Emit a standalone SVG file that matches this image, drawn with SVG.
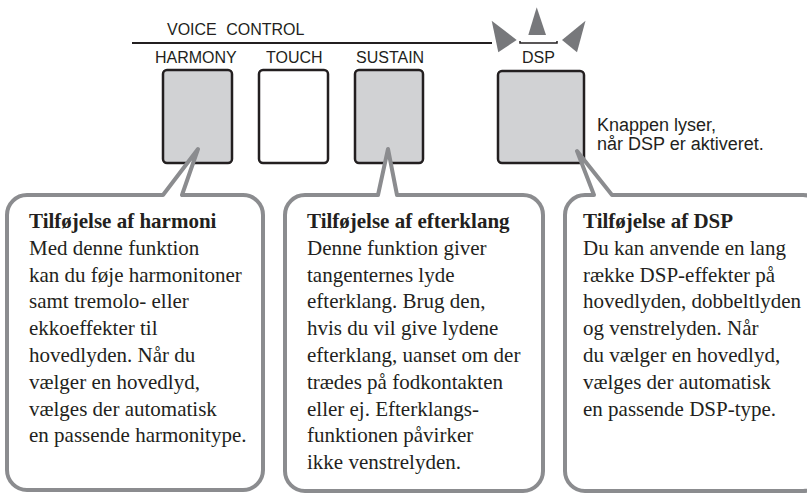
<svg xmlns="http://www.w3.org/2000/svg" width="807" height="493" viewBox="0 0 807 493">
<style>
.hd{font-family:"Liberation Sans",Arial,sans-serif;font-size:16px;fill:#231f20}
.nt{font-family:"Liberation Sans",Arial,sans-serif;font-size:18px;fill:#231f20}
.bt{font-family:"Liberation Serif","Times New Roman",serif;font-size:21px;fill:#231f20}
.tt{font-weight:bold}
.btn{stroke:#231f20;stroke-width:2.5;fill:#d1d2d4}
.call{fill:#fff;stroke:#8b8c8f;stroke-width:4;stroke-linejoin:round}
.ray{fill:#77787b}
</style>
<rect width="807" height="493" fill="#fff"/>
<g id="panel">
<line x1="132" y1="43" x2="492" y2="43" stroke="#231f20" stroke-width="2"/>
<text class="hd" x="167" y="35" word-spacing="5">VOICE CONTROL</text>
</g>
<g id="harmony-button">
<text class="hd" x="155" y="63">HARMONY</text>
<rect class="btn" x="163" y="70" width="69" height="93" rx="4"/>
</g>
<g id="touch-button">
<text class="hd" x="266" y="63">TOUCH</text>
<rect class="btn" x="259" y="70" width="69" height="93" rx="4" fill="#fff" style="fill:#fff"/>
</g>
<g id="sustain-button">
<text class="hd" x="356" y="63">SUSTAIN</text>
<rect class="btn" x="355" y="70" width="68" height="93" rx="4"/>
</g>
<g id="dsp-button">
<polygon class="ray" points="491.7,20.7 516.7,40 498.3,52.3"/>
<polygon class="ray" points="536.7,7.3 546,35 528.3,35"/>
<polygon class="ray" points="585.5,20.7 562,40 577,52.3"/>
<path d="M520,41 V43 H557 V41" fill="none" stroke="#231f20" stroke-width="1.5"/>
<text class="hd" x="522" y="63">DSP</text>
<rect class="btn" x="498" y="71" width="86" height="92" rx="4"/>
<text class="nt" x="597" y="131">Knappen lyser,</text>
<text class="nt" x="597" y="150">når DSP er aktiveret.</text>
</g>
<g id="connectors">
<path class="call" d="M27,195 H163 L198,149 L182,195 H243 A20,20 0 0 1 263,215 V470 A20,20 0 0 1 243,490 H27 A20,20 0 0 1 7,470 V215 A20,20 0 0 1 27,195 Z"/>
<path class="call" d="M305,195 H378 L388,149 L397,195 H523 A20,20 0 0 1 543,215 V471 A20,20 0 0 1 523,491 H305 A20,20 0 0 1 285,471 V215 A20,20 0 0 1 305,195 Z"/>
<path class="call" d="M585,195 H594 L577,151 L612,195 H803 A20,20 0 0 1 823,215 V471 A20,20 0 0 1 803,491 H585 A20,20 0 0 1 565,471 V215 A20,20 0 0 1 585,195 Z"/>
</g>
<g id="callout-harmony">
<text class="bt" x="29" y="228"><tspan class="tt">Tilføjelse af harmoni</tspan><tspan x="29" dy="26.8">Med denne funktion</tspan><tspan x="29" dy="26.8">kan du føje harmonitoner</tspan><tspan x="29" dy="26.8">samt tremolo- eller</tspan><tspan x="29" dy="26.8">ekkoeffekter til</tspan><tspan x="29" dy="26.8">hovedlyden. Når du</tspan><tspan x="29" dy="26.8">vælger en hovedlyd,</tspan><tspan x="29" dy="26.8">vælges der automatisk</tspan><tspan x="29" dy="26.8">en passende harmonitype.</tspan></text>
</g>
<g id="callout-sustain">
<text class="bt" x="307" y="228"><tspan class="tt">Tilføjelse af efterklang</tspan><tspan x="307" dy="26.8">Denne funktion giver</tspan><tspan x="307" dy="26.8">tangenternes lyde</tspan><tspan x="307" dy="26.8">efterklang. Brug den,</tspan><tspan x="307" dy="26.8">hvis du vil give lydene</tspan><tspan x="307" dy="26.8">efterklang, uanset om der</tspan><tspan x="307" dy="26.8">trædes på fodkontakten</tspan><tspan x="307" dy="26.8">eller ej. Efterklangs-</tspan><tspan x="307" dy="26.8">funktionen påvirker</tspan><tspan x="307" dy="26.8">ikke venstrelyden.</tspan></text>
</g>
<g id="callout-dsp">
<text class="bt" x="583" y="228"><tspan class="tt">Tilføjelse af DSP</tspan><tspan x="583" dy="26.8">Du kan anvende en lang</tspan><tspan x="583" dy="26.8">række DSP-effekter på</tspan><tspan x="583" dy="26.8">hovedlyden, dobbeltlyden</tspan><tspan x="583" dy="26.8">og venstrelyden. Når</tspan><tspan x="583" dy="26.8">du vælger en hovedlyd,</tspan><tspan x="583" dy="26.8">vælges der automatisk</tspan><tspan x="583" dy="26.8">en passende DSP-type.</tspan></text>
</g>
</svg>
